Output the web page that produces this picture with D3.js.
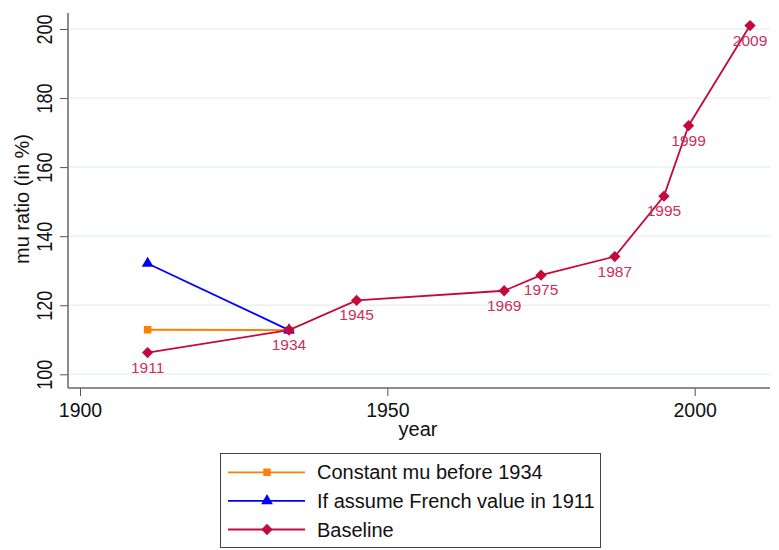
<!DOCTYPE html>
<html>
<head>
<meta charset="utf-8">
<script src="https://cdn.jsdelivr.net/npm/d3@7"></script>
<style>
  body { margin: 0; background: #fff; }
  svg { font-family: Arial, "Liberation Sans", sans-serif; }
</style>
</head>
<body>
<svg width="779" height="550"></svg>
<script>
// data
const baseYears = [1911, 1934, 1945, 1969, 1975, 1987, 1995, 1999, 2009];
const baseValues = [106.3, 112.8, 121.4, 124.2, 128.7, 134.1, 151.6, 172.0, 201.0];
const constYears = [1911, 1934];
const constValues = [112.9, 112.8];
const frenchYears = [1911, 1934];
const frenchValues = [132.1, 112.8];
const xTicks = [1900, 1950, 2000];
const yTicks = [100, 120, 140, 160, 180, 200];
const legendLabels = ['Constant mu before 1934', 'If assume French value in 1911', 'Baseline'];

const svg = d3.select('svg');

const x = d3.scaleLinear().domain([1900, 2000]).range([80, 694.7]);
const y = d3.scaleLinear().domain([100, 200]).range([374.3, 29]);
const plotLeft = 68, plotRight = 770, plotTop = 13, plotBottom = 388;

// grid
svg.append('g').selectAll('line').data(yTicks)
  .enter().append('line')
  .attr('x1', plotLeft).attr('x2', plotRight)
  .attr('y1', d => y(d)).attr('y2', d => y(d))
  .attr('stroke', '#eaf1f4').attr('stroke-width', 1.5);

// axes
const yAxis = svg.append('g').attr('transform', `translate(${plotLeft},0)`)
  .call(d3.axisLeft(y).tickValues(yTicks).tickSize(8));
yAxis.select('.domain').remove();
yAxis.selectAll('line').attr('stroke', '#555');
// rotated tick labels, a bit narrow and tall like the original
yAxis.selectAll('.tick text')
  .attr('font-size', 22).attr('fill', '#111')
  .attr('x', null).attr('dy', null)
  .attr('text-anchor', 'middle')
  .attr('transform', 'translate(-16,0) rotate(-90) scale(0.82,1)')
  .attr('y', 0);
svg.append('line').attr('x1', plotLeft).attr('x2', plotLeft).attr('y1', plotTop).attr('y2', plotBottom)
  .attr('stroke', '#666').attr('stroke-width', 1.5);

const xAxis = svg.append('g').attr('transform', `translate(0,${plotBottom})`)
  .call(d3.axisBottom(x).tickValues(xTicks).tickFormat(d3.format('d')).tickSize(8).tickPadding(7));
xAxis.select('.domain').remove();
xAxis.selectAll('line').attr('stroke', '#555');
xAxis.selectAll('text').attr('font-size', 19.5).attr('fill', '#111');
svg.append('line').attr('x1', plotLeft).attr('x2', plotRight).attr('y1', plotBottom).attr('y2', plotBottom)
  .attr('stroke', '#666').attr('stroke-width', 1.5);

svg.append('text').attr('x', 418).attr('y', 436).attr('text-anchor', 'middle')
  .attr('font-size', 20).attr('fill', '#111').text('year');
svg.append('text').attr('transform', 'translate(29,199) rotate(-90)')
  .attr('text-anchor', 'middle').attr('font-size', 20).attr('fill', '#111')
  .text('mu ratio (in %)');

const line = d3.line().x(d => x(d[0])).y(d => y(d[1]));
const series = [
  {years: constYears, values: constValues, color: '#ff7f00', symbol: d3.symbolSquare, size: 56, rot: 0},
  {years: frenchYears, values: frenchValues, color: '#0000ff', symbol: d3.symbolTriangle, size: 60, rot: 0},
  {years: baseYears, values: baseValues, color: '#c40a3c', symbol: d3.symbolSquare, size: 64, rot: 45}
];

series.forEach(s => {
  const pts = s.years.map((yr, i) => [yr, s.values[i]]);
  svg.append('path').attr('d', line(pts)).attr('fill', 'none')
    .attr('stroke', s.color).attr('stroke-width', 1.8);
  svg.append('g').selectAll('path').data(pts).enter().append('path')
    .attr('transform', d => `translate(${x(d[0])},${y(d[1])}) rotate(${s.rot})`)
    .attr('d', d3.symbol().type(s.symbol).size(s.size))
    .attr('fill', s.color);
});

// point labels for baseline
svg.append('g').selectAll('text').data(baseYears).enter().append('text')
  .attr('x', d => x(d)).attr('y', (d, i) => y(baseValues[i]) + 20)
  .attr('text-anchor', 'middle').attr('font-size', 15.5).attr('fill', '#cc2f5c')
  .text(d => d);

// legend
const lg = svg.append('g');
lg.append('rect').attr('x', 220.5).attr('y', 453.5).attr('width', 380).attr('height', 94)
  .attr('fill', '#fff').attr('stroke', '#444').attr('stroke-width', 1);
series.forEach((s, i) => {
  const ly = 472.3 + i * 28.6;
  lg.append('line').attr('x1', 228).attr('x2', 305).attr('y1', ly).attr('y2', ly)
    .attr('stroke', s.color).attr('stroke-width', 1.8);
  lg.append('path').attr('transform', `translate(267,${ly}) rotate(${s.rot})`)
    .attr('d', d3.symbol().type(s.symbol).size(s.size)).attr('fill', s.color);
  lg.append('text').attr('x', 317).attr('y', ly + 7).attr('font-size', 20)
    .attr('fill', '#111').text(legendLabels[i]);
});
</script>
</body>
</html>
